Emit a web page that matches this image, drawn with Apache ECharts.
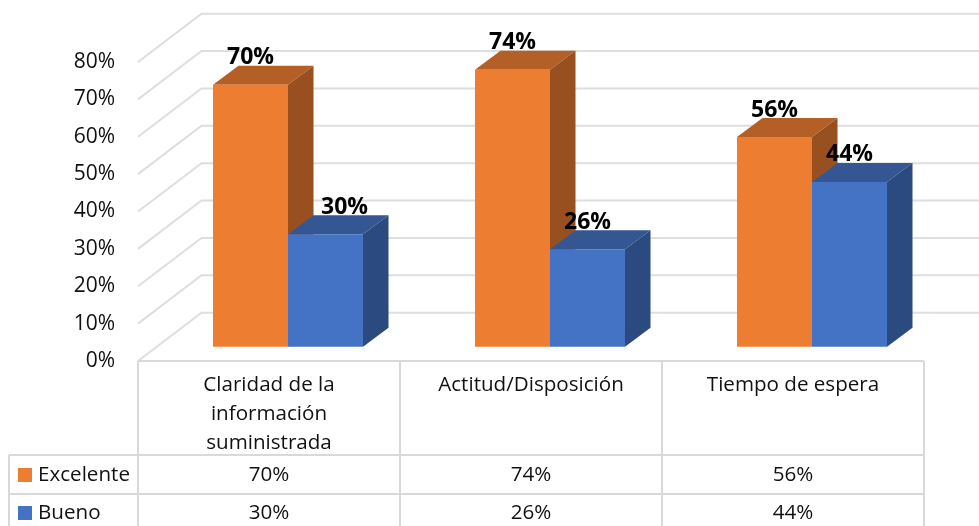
<!DOCTYPE html>
<html>
<head>
	<meta charset="utf-8">
	<title>Claridad, actitud y tiempo de espera</title>
	<script src="https://cdn.jsdelivr.net/npm/echarts@6/dist/echarts.min.js"></script>
	<style>
		html, body { margin: 0; padding: 0; background: #fff; }
		#main { width: 979px; height: 526px; }
	</style>
</head>
<body>
<div id="main"></div>
<script type="text/javascript">
// datos del grafico
var categorias = ['Claridad de la\ninformación\nsuministrada', 'Actitud/Disposición', 'Tiempo de espera'];
var excelente = [70, 74, 56];
var bueno = [30, 26, 44];
var ticksY = [0, 10, 20, 30, 40, 50, 60, 70, 80];

var fuente = '"Open Sans"';
var colorTexto = '#111111';
var colorLinea = '#d9d9d9';

var myChart = echarts.init(document.getElementById('main'));

// caras de cada barra: frente, tapa y lateral
function barra3d(colores, lado, ajusteEtiqueta) {
	return function (params, api) {
		var i = api.value(0);
		var v = api.value(1);
		var banda = api.size([1, 0])[0];
		var ancho = banda * 0.2863;
		// lado 0 = barra izquierda, lado 1 = barra derecha
		var x = api.coord([i, 0])[0] + 19 - (lado ? 0 : ancho);
		var yBase = api.coord([i, 0])[1] - 14.3;
		var yTop = api.coord([i, v])[1] - 14.6;
		var dx = 25.5, dy = 19;
		var ajuste = ajusteEtiqueta[i] || 0;
		return {
			type: 'group',
			children: [
				{ type: 'polygon', shape: { points: [[x, yTop], [x + dx, yTop - dy], [x + ancho + dx, yTop - dy], [x + ancho, yTop]] }, style: { fill: colores[1] } },
				{ type: 'polygon', shape: { points: [[x + ancho, yTop], [x + ancho + dx, yTop - dy], [x + ancho + dx, yBase - dy], [x + ancho, yBase]] }, style: { fill: colores[2] } },
				{ type: 'rect', shape: { x: x, y: yTop, width: ancho, height: yBase - yTop }, style: { fill: colores[0] } },
				{
					type: 'text',
					z2: 100,
					style: {
						x: x + ancho / 2 + ajuste, y: yTop - 27, text: v + '%',
						font: 'bold 23px ' + fuente, fill: '#000', align: 'center', verticalAlign: 'middle'
					}
				}
			]
		};
	};
}

// pared lateral y pared del fondo
function paredes(params, api) {
	var p = api.coord([0, api.value(0)]);
	var x0 = params.coordSys.x;
	return {
		type: 'polyline',
		shape: { points: [[x0, p[1]], [x0 + 63.5, p[1] - 48.3], [979, p[1] - 48.3]] },
		style: { fill: null, stroke: '#dedede', lineWidth: 2 }
	};
}

// tabla de datos bajo el eje
var filas = [
	{ nombre: 'Excelente', color: '#ED7D31', valores: excelente, y: 475 },
	{ nombre: 'Bueno', color: '#4472C4', valores: bueno, y: 513 }
];

function linea(x1, y1, x2, y2) {
	return { type: 'line', shape: { x1: x1, y1: y1, x2: x2, y2: y2 }, style: { stroke: colorLinea, lineWidth: 2 } };
}

function celda(x, y, texto, align) {
	return {
		type: 'text',
		style: { x: x, y: y, text: texto, font: '20.6px ' + fuente, fill: colorTexto, align: align, verticalAlign: 'middle' }
	};
}

function tabla(params, api) {
	var sis = params.coordSys;
	var fin = sis.x + sis.width;
	var yAbajo = sis.y + sis.height;
	var hijos = [
		linea(sis.x, yAbajo, fin, yAbajo),
		linea(9, 455, fin, 455),
		linea(9, 494, fin, 494),
		linea(9, 455, 9, 526)
	];
	for (var c = 0; c <= categorias.length; c++) {
		var xl = sis.x + c * sis.width / categorias.length;
		hijos.push(linea(xl, yAbajo, xl, 526));
	}
	filas.forEach(function (f) {
		hijos.push({ type: 'rect', shape: { x: 18, y: f.y - 7, width: 14, height: 14 }, style: { fill: f.color } });
		hijos.push(celda(38, f.y, f.nombre, 'left'));
		f.valores.forEach(function (v, i) {
			hijos.push(celda(api.coord([i, 0])[0], f.y, v + '%', 'center'));
		});
	});
	return { type: 'group', children: hijos };
}

var option = {
	animation: false,
	grid: { left: 138, right: 55, top: 62, bottom: 165 },
	xAxis: {
		type: 'category',
		data: categorias,
		axisLine: { show: false },
		axisTick: { show: false },
		axisLabel: {
			interval: 0, margin: 10, fontFamily: fuente, fontSize: 20.6, lineHeight: 29,
			color: colorTexto, align: 'center', verticalAlign: 'top'
		}
	},
	yAxis: {
		type: 'value',
		min: 0,
		max: 80,
		interval: 10,
		axisLine: { show: false },
		axisTick: { show: false },
		splitLine: { show: false },
		axisLabel: { margin: 23, padding: [3, 0, 0, 0], fontFamily: fuente, fontSize: 21, color: colorTexto, formatter: '{value}%' }
	},
	series: [
		{ name: 'paredes', type: 'custom', silent: true, z: 1, renderItem: paredes, encode: { y: 0 }, data: ticksY },
		{ name: 'tabla', type: 'custom', silent: true, z: 1, renderItem: tabla, data: [0] },
		{
			name: 'Excelente', type: 'custom', z: 2,
			renderItem: barra3d(['#ED7D31', '#B45F25', '#985020'], 0, {}),
			data: excelente.map(function (v, i) { return [i, v]; })
		},
		{
			name: 'Bueno', type: 'custom', z: 3,
			renderItem: barra3d(['#4472C4', '#345793', '#2B4A80'], 1, { 0: 19 }),
			data: bueno.map(function (v, i) { return [i, v]; })
		}
	]
};

myChart.setOption(option);
</script>
</body>
</html>
